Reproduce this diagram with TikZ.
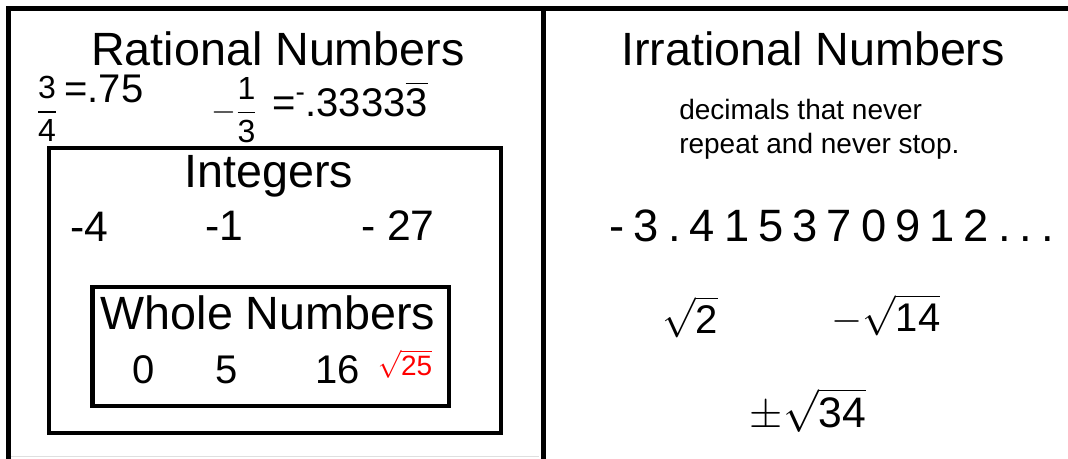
\RequirePackage{fix-cm}
\documentclass[tikz,border=0pt]{standalone}
\usepackage{amsmath}
\usepackage{fontspec}
\setmainfont{Liberation Sans}
\newfontfamily\spaced[LetterSpace=20]{Liberation Sans}
\usepackage{tikz}
\usetikzlibrary{positioning}

\begin{document}
\begin{tikzpicture}[x=0.75pt,y=-0.75pt,
  heading/.style={font=\fontsize{35}{40}\selectfont,inner sep=0pt,anchor=base},
  hand/.style={font=\fontsize{30}{36}\selectfont,inner sep=0pt},
  frame/.style={line width=3.75pt},
  setbox/.style={line width=3.4pt}]
  \useasboundingbox (0,0) rectangle (1068,459);
  \draw[gray!25,line width=0.75pt] (10,457) -- (539,457);
  \draw[frame] (8,459) -- (8,8.5) -- (1068,8.5);
  \draw[frame] (543,8.5) -- (543,459);
  \draw[setbox] (49,148) rectangle (501,433);
  \draw[setbox] (92.5,287) rectangle (449,406);

  \node[heading] (rational) at (278,66) {Rational Numbers};
  \node[heading] (irrational) at (813,66) {Irrational Numbers};
  \node[heading] (integers) at (269,188) {Integers};
  \node[heading] (whole) at (268,330) {Whole Numbers};
  \node[font=\fontsize{21}{25.5}\selectfont,align=left,anchor=north west,inner sep=0pt] (defn) at (679,99)
    {decimals that never\\repeat and never stop.};

  \node[hand,font=\fontsize{24}{28}\selectfont] (threefourths) at (47,109) {$\dfrac{\text{3}}{\text{4}}$};
  \node[hand] (pointseventyfive) at (104,89) {=.75};
  \node[hand,font=\fontsize{24}{28}\selectfont] (negthird) at (234,110) {$-\dfrac{\text{1}}{\text{3}}$};
  \node[hand] (repeating) at (350,99) {=\textsuperscript{-}.3333$\overline{\text{3}}$};

  \node[hand,font=\fontsize{32}{36}\selectfont] (negfour) at (89,227) {-4};
  \node[hand,font=\fontsize{32}{36}\selectfont] (negone) at (224,226) {-1};
  \node[hand,font=\fontsize{32}{36}\selectfont] (negtwentyseven) at (398,226) {- 27};

  \node[hand] (zero) at (144,370) {0};
  \node[hand] (five) at (227,370) {5};
  \node[hand] (sixteen) at (338,370) {16};
  \node[hand,red,font=\fontsize{21}{25}\selectfont] (roottwentyfive) at (405,364) {$\sqrt{\text{25}}$};

  \node[hand,font=\spaced\fontsize{34}{40}\selectfont] (decimal) at (832,226) {-3.415370912...};
  \node[hand] (roottwo) at (690,317) {$\sqrt{\text{2}}$};
  \node[hand] (rootfourteen) at (886,315) {$-\sqrt{\text{14}}$};
  \node[hand,font=\fontsize{32}{36}\selectfont] (rootthirtyfour) at (808,410) {$\pm\sqrt{\text{34}}$};
\end{tikzpicture}
\end{document}
